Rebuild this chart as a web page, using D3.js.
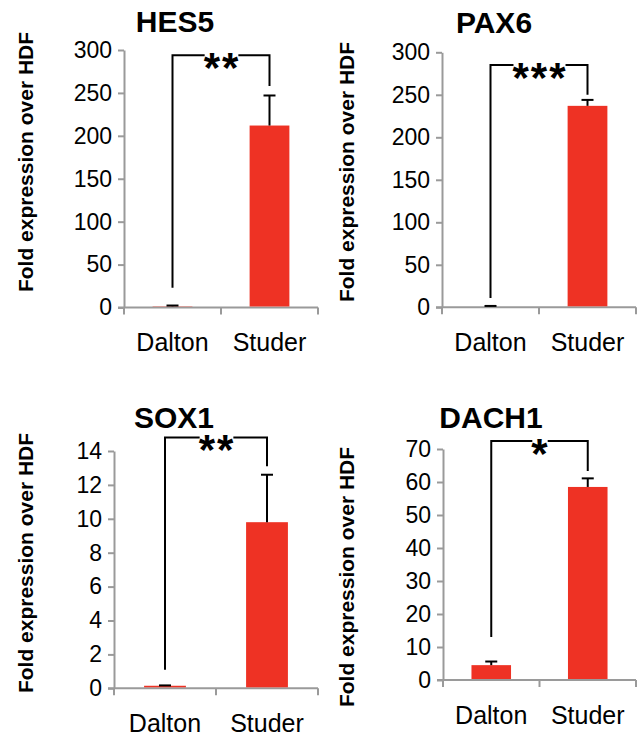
<!DOCTYPE html>
<meta charset="utf-8">
<head>
  <title>Fold expression over HDF</title>
</head>
<style>
body { margin: 0; background: white; }
text { font-family: "Liberation Sans", Arial, sans-serif; fill: black; }
.axis path, .axis line { stroke: #9a9a9a; stroke-width: 2px; }
.axis text { font-size: 23px; fill: black; }
</style>
<body>
<svg width="642" height="740"></svg>
<script src="https://cdnjs.cloudflare.com/ajax/libs/d3/7.8.5/d3.min.js"></script>
<script>
// data
var genes = ["HES5", "PAX6", "SOX1", "DACH1"];
var groups = ["Dalton", "Studer"];
var means = [[1.5, 212], [1, 237], [0.15, 9.8], [4.5, 58.5]];
var errs = [[0.8, 35], [0.6, 7], [0.02, 2.8], [1.1, 2.6]];
var yMax = [300, 300, 14, 70];
var yStep = [50, 50, 2, 10];
var stars = ["**", "***", "**", "*"];
var bracketTop = [294, 285, 14.8, 72.4];
var bracketLeft = [23, 11, 1.1, 13];
var bracketRight = [258, 250, 13.1, 63.3];

// panel layout (pixels)
var panels = [
  {x0: 124, x1: 318, yTop: 50, yBot: 307.5, titleX: 175, titleY: 32, labX: 33, labY: 162},
  {x0: 442, x1: 636, yTop: 52.3, yBot: 307.3, titleX: 494, titleY: 33, labX: 354, labY: 172},
  {x0: 114, x1: 318, yTop: 451, yBot: 688.3, titleX: 174, titleY: 428, labX: 33, labY: 563},
  {x0: 443, x1: 636, yTop: 449, yBot: 680, titleX: 491, titleY: 428, labX: 354, labY: 577}
];

var svg = d3.select("svg");
var red = "#ee3224";

genes.forEach(function(gene, i) {
  var p = panels[i];
  var g = svg.append("g");

  var x = d3.scaleBand().domain(groups).range([p.x0, p.x1]).padding(0);
  var y = d3.scaleLinear().domain([0, yMax[i]]).range([p.yBot, p.yTop]);
  var bw = x.bandwidth() * 0.41;

  // y axis
  g.append("g").attr("class", "axis")
    .attr("transform", "translate(" + p.x0 + ",0)")
    .call(d3.axisLeft(y).tickValues(d3.range(0, yMax[i] + yStep[i] / 2, yStep[i]))
      .tickSize(6).tickSizeOuter(0).tickPadding(6));

  // x axis, ticks at the category boundaries
  var xa = g.append("g").attr("class", "axis")
    .attr("transform", "translate(0," + p.yBot + ")");
  xa.append("line").attr("x1", p.x0 - 6).attr("x2", p.x1).attr("y1", 0).attr("y2", 0);
  xa.selectAll(".tk").data([p.x0, x("Studer"), p.x1]).enter().append("line")
    .attr("x1", function(d) { return d; }).attr("x2", function(d) { return d; })
    .attr("y1", 0).attr("y2", 7);
  g.selectAll(".cat").data(groups).enter().append("text")
    .attr("x", function(d) { return x(d) + x.bandwidth() / 2; })
    .attr("y", p.yBot + 43.5)
    .attr("text-anchor", "middle")
    .style("font-size", "25px")
    .text(function(d) { return d; });

  // bars
  var rows = groups.map(function(gr, j) { return {g: gr, v: means[i][j], e: errs[i][j]}; });
  g.selectAll(".bar").data(rows).enter().append("rect")
    .attr("x", function(d) { return x(d.g) + (x.bandwidth() - bw) / 2; })
    .attr("width", bw)
    .attr("y", function(d) { return y(d.v); })
    .attr("height", function(d) { return p.yBot - 1 - y(d.v); })
    .attr("fill", red);

  // error bars (upper only)
  var eb = g.selectAll(".err").data(rows).enter().append("g");
  eb.append("line")
    .attr("x1", function(d) { return x(d.g) + x.bandwidth() / 2; })
    .attr("x2", function(d) { return x(d.g) + x.bandwidth() / 2; })
    .attr("y1", function(d) { return y(d.v); })
    .attr("y2", function(d) { return y(d.v + d.e); })
    .attr("stroke", "black").attr("stroke-width", 2);
  eb.append("line")
    .attr("x1", function(d) { return x(d.g) + x.bandwidth() / 2 - 6; })
    .attr("x2", function(d) { return x(d.g) + x.bandwidth() / 2 + 6; })
    .attr("y1", function(d) { return y(d.v + d.e); })
    .attr("y2", function(d) { return y(d.v + d.e); })
    .attr("stroke", "black").attr("stroke-width", 2);

  // significance bracket
  var bl = x("Dalton") + x.bandwidth() / 2;
  var br = x("Studer") + x.bandwidth() / 2;
  var by = y(bracketTop[i]);
  var st = g.append("text")
    .attr("x", (bl + br) / 2 + 1)
    .attr("y", by + 27)
    .attr("text-anchor", "middle")
    .style("font-size", "42px").style("font-weight", "bold")
    .style("letter-spacing", "2px")
    .text(stars[i]);
  var bb = st.node().getBBox();
  var gap0 = bb.x + 1, gap1 = bb.x + bb.width - 2;
  g.append("path")
    .attr("d", "M" + bl + "," + y(bracketLeft[i]) + "V" + by + "H" + gap0)
    .attr("fill", "none").attr("stroke", "black").attr("stroke-width", 2);
  g.append("path")
    .attr("d", "M" + gap1 + "," + by + "H" + br + "V" + y(bracketRight[i]))
    .attr("fill", "none").attr("stroke", "black").attr("stroke-width", 2);

  // title and y label
  g.append("text")
    .attr("x", p.titleX).attr("y", p.titleY)
    .attr("text-anchor", "middle")
    .style("font-size", "30px").style("font-weight", "bold")
    .text(gene);
  g.append("text")
    .attr("transform", "translate(" + p.labX + "," + p.labY + ") rotate(-90)")
    .attr("text-anchor", "middle")
    .style("font-size", "21px").style("font-weight", "bold")
    .text("Fold expression over HDF");
});
</script>
</body>
</html>
